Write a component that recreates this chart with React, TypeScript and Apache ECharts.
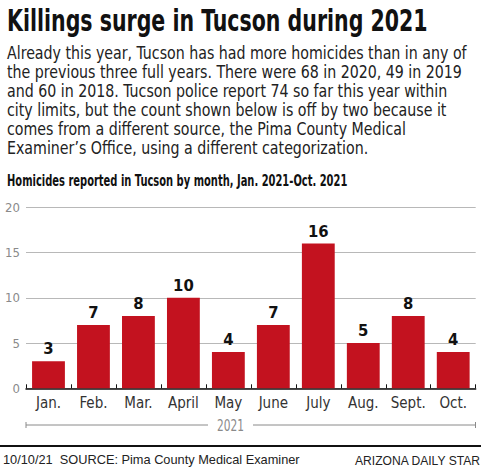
import React, { useEffect, useRef } from "react";
import * as echarts from "echarts";

const title = "Killings surge in Tucson during 2021";
const bodyLines = [
  "Already this year, Tucson has had more homicides than in any of",
  "the previous three full years. There were 68 in 2020, 49 in 2019",
  "and 60 in 2018. Tucson police report 74 so far this year within",
  "city limits, but the count shown below is off by two because it",
  "comes from a different source, the Pima County Medical",
  "Examiner\u2019s Office, using a different categorization.",
];
const subtitle = "Homicides reported in Tucson by month, Jan. 2021-Oct. 2021";
const months = ["Jan.", "Feb.", "Mar.", "April", "May", "June", "July", "Aug.", "Sept.", "Oct."];
const homicides = [3, 7, 8, 10, 4, 7, 16, 5, 8, 4];
const yearLabel = "2021";
const footerLeft = "10/10/21  SOURCE: Pima County Medical Examiner";
const footerRight = "ARIZONA DAILY STAR";

const COND = '"DejaVu Sans Condensed", "DejaVu Sans", sans-serif';
const PLAIN = '"Liberation Sans", Arial, sans-serif';

function measure(text: string, font: string): number {
  const ctx = document.createElement("canvas").getContext("2d")!;
  ctx.font = font;
  return ctx.measureText(text).width || 1;
}

export default function App() {
  const ref = useRef<HTMLDivElement>(null);
  useEffect(() => {
    document.body.style.margin = "0";
    const chart = echarts.init(ref.current!, null, { renderer: "svg" });
    const gray = "#8a8a8a";

    const titleFont = `bold 30px ${COND}`;
    const bodyFont = `17px ${COND}`;
    const subFont = `bold 15px ${COND}`;
    const yearFont = `15.5px ${COND}`;
    const footFont = `12.5px ${PLAIN}`;

    const titleScale = 421 / measure(title, titleFont);
    const bodyScale = 460 / measure(bodyLines[0], bodyFont);
    const subScale = 341 / measure(subtitle, subFont);
    const yearScale = 27 / measure(yearLabel, yearFont);
    const footLScale = 297 / measure(footerLeft, footFont);
    const footRScale = 126 / measure(footerRight, footFont);

    const txt = (
      text: string,
      x: number,
      y: number,
      font: string,
      fill: string,
      scaleX: number,
      align: string = "left"
    ) => ({
      type: "text",
      x,
      y,
      scaleX,
      style: { text, x: 0, y: 0, font, fill, align, verticalAlign: "middle" },
    });

    chart.setOption({
      animation: false,
      backgroundColor: "#ffffff",
      grid: { left: 26, right: 8.3, top: 207.3, bottom: 83.7, containLabel: false },
      xAxis: {
        type: "category",
        data: months,
        axisLine: { show: true, lineStyle: { color: "#111", width: 1.5 } },
        axisTick: { show: true, inside: true, length: 4, lineStyle: { color: "#111", width: 1 } },
        axisLabel: { interval: 0, color: "#333", fontFamily: COND, fontSize: 15, margin: 7 },
      },
      yAxis: {
        type: "value",
        min: 0,
        max: 20,
        interval: 5,
        axisLine: { show: false },
        axisTick: { show: false },
        axisLabel: { color: gray, fontFamily: COND, fontSize: 13, margin: 6 },
        splitLine: { lineStyle: { color: "#b8b8b8", width: 1 } },
      },
      series: [
        {
          type: "bar",
          data: homicides,
          barCategoryGap: "27%",
          itemStyle: { color: "#c3121f" },
          label: {
            show: true,
            position: "top",
            distance: 4,
            color: "#111",
            fontFamily: COND,
            fontWeight: "bold",
            fontSize: 16.5,
          },
        },
      ],
      graphic: [
        txt(title, 7, 20, titleFont, "#111", titleScale),
        ...bodyLines.map((line, i) => txt(line, 7, 53 + 19 * i, bodyFont, "#222", bodyScale)),
        txt(subtitle, 7, 181.3, subFont, "#111", subScale),
        // year bracket
        { type: "line", shape: { x1: 26, y1: 425, x2: 208, y2: 425 }, style: { stroke: gray, lineWidth: 1 } },
        { type: "line", shape: { x1: 253, y1: 425, x2: 475.5, y2: 425 }, style: { stroke: gray, lineWidth: 1 } },
        { type: "line", shape: { x1: 26, y1: 422, x2: 26, y2: 428 }, style: { stroke: gray, lineWidth: 1 } },
        { type: "line", shape: { x1: 475.5, y1: 422, x2: 475.5, y2: 428 }, style: { stroke: gray, lineWidth: 1 } },
        txt(yearLabel, 230.5, 425, yearFont, gray, yearScale, "center"),
        // footer rule
        { type: "line", shape: { x1: 0, y1: 446, x2: 481, y2: 446 }, style: { stroke: "#111", lineWidth: 2 } },
        txt(footerLeft, 3, 460.5, footFont, "#222", footLScale),
        txt(footerRight, 480, 460.5, footFont, "#222", footRScale, "right"),
      ],
    });
    return () => chart.dispose();
  }, []);
  return <div ref={ref} style={{ width: 484, height: 472 }} />;
}
